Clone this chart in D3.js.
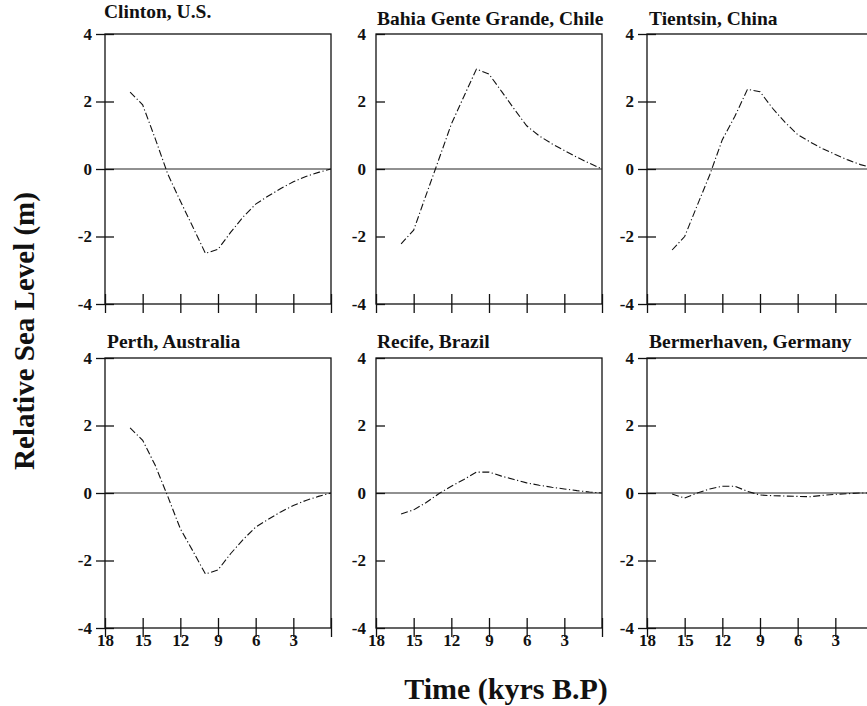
<!DOCTYPE html>
<html>
<head>
<meta charset="utf-8">
<script src="https://cdnjs.cloudflare.com/ajax/libs/d3/7.8.5/d3.min.js"></script>
<style>
body{margin:0;background:#fff;}
svg text{font-family:"Liberation Serif","Times New Roman",serif;font-weight:bold;fill:#111;}
</style>
</head>
<body>
<script>
// sample ages, kyrs before present
var kyrs = [16,15,14,13,12,11,10,9,8,7,6,5,4,3,2,1,0];

var siteNames = ["Clinton, U.S.", "Bahia Gente Grande, Chile", "Tientsin, China",
                 "Perth, Australia", "Recife, Brazil", "Bermerhaven, Germany"];

var clinton     = [2.28,1.9,0.9,-0.15,-0.95,-1.72,-2.5,-2.38,-1.88,-1.42,-1.04,-0.8,-0.58,-0.38,-0.22,-0.1,0];
var bahia       = [-2.22,-1.81,-0.76,0.28,1.33,2.15,2.96,2.81,2.3,1.78,1.28,0.98,0.75,0.55,0.35,0.17,0];
var tientsin    = [-2.4,-2.0,-1.08,-0.17,0.87,1.56,2.36,2.29,1.8,1.38,1.02,0.8,0.6,0.43,0.27,0.13,0.03];
var perth       = [1.93,1.56,0.82,-0.1,-1.06,-1.72,-2.4,-2.28,-1.8,-1.38,-1.01,-0.78,-0.56,-0.37,-0.22,-0.1,0];
var recife      = [-0.62,-0.5,-0.28,-0.02,0.2,0.4,0.62,0.62,0.5,0.4,0.3,0.23,0.17,0.12,0.07,0.03,0];
var bermerhaven = [-0.03,-0.15,0.0,0.12,0.2,0.2,0.05,-0.06,-0.08,-0.09,-0.1,-0.11,-0.07,-0.04,-0.02,0,0];

var seriesList = [clinton, bahia, tientsin, perth, recife, bermerhaven];

var xTicks = [18,15,12,9,6,3,0];
var xTickLabels = ["18","15","12","9","6","3",""];
var yTicks = [-4,-2,0,2,4];

// layout
var W = 867, H = 706;
var panelLeft = [105, 376, 647];
var panelTop = [34, 358];
var pw = 226, ph = 270;
var titleBase = [-16, -9, -9, -10, -10, -10];
var titleDx = [-1, 1, 2, 2, 1, 2];

var svg = d3.select("body").append("svg")
            .attr("width", W)
            .attr("height", H);

svg.append("rect").attr("width", W).attr("height", H).attr("fill", "#fff");

var x = d3.scaleLinear().domain([18,0]).range([0,pw]);
var y = d3.scaleLinear().domain([-4,4]).range([ph,0]);

var line = d3.line()
             .x(function(d){ return x(d[0]); })
             .y(function(d){ return y(d[1]); });

for (var i=0;i<6;i++){
  var col = i%3, row = Math.floor(i/3);
  var g = svg.append("g")
             .attr("transform","translate("+panelLeft[col]+","+panelTop[row]+")");

  // frame
  g.append("rect")
   .attr("width", pw).attr("height", ph)
   .attr("fill","none").attr("stroke","#111").attr("stroke-width",1.3);

  // zero line
  g.append("line")
   .attr("x1",0).attr("x2",pw)
   .attr("y1",y(0)).attr("y2",y(0))
   .attr("stroke","#222").attr("stroke-width",1);

  // y axis: labels + outer ticks (middle column has inner ticks only)
  var yOut = d3.axisLeft(y).tickValues(yTicks)
               .tickFormat(function(d){ return String(d); })
               .tickSizeOuter(0)
               .tickSizeInner(col==1 ? 0 : 9)
               .tickPadding(col==1 ? 10 : 4);
  var ya = g.append("g").call(yOut);
  var yIn = d3.axisRight(y).tickValues(yTicks).tickFormat("").tickSizeOuter(0).tickSizeInner(9);
  var yb = g.append("g").call(yIn);

  // x axis: ticks crossing the bottom edge
  var xDown = d3.axisBottom(x).tickValues(xTicks).tickSizeOuter(0).tickSizeInner(9)
                .tickFormat(function(d,k){ return row==1 ? xTickLabels[k] : ""; });
  var xa = g.append("g").attr("transform","translate(0,"+ph+")").call(xDown);
  var xUp = d3.axisTop(x).tickValues(xTicks).tickFormat("").tickSizeOuter(0).tickSizeInner(10);
  var xb = g.append("g").attr("transform","translate(0,"+ph+")").call(xUp);

  [ya,yb,xa,xb].forEach(function(a){
    a.select(".domain").remove();
    a.selectAll("line").attr("stroke","#111").attr("stroke-width",1.3);
    a.selectAll("text").attr("fill","#111")
      .style("font-size","17px")
      .style("font-family","'Liberation Serif','Times New Roman',serif")
      .style("font-weight","bold");
  });
  xa.selectAll("text").attr("y",18).attr("dy",null);

  // data curve
  var pts = kyrs.map(function(k,j){ return [k, seriesList[i][j]]; });
  g.append("path")
   .datum(pts)
   .attr("d", line)
   .attr("fill","none")
   .attr("stroke","#111")
   .attr("stroke-width",1.1)
   .attr("stroke-dasharray","7,2.5,1.2,2.5");

  // panel title
  g.append("text")
   .attr("x", titleDx[i])
   .attr("y", titleBase[i])
   .style("font-size","19.5px")
   .text(siteNames[i]);
}

svg.append("text")
   .attr("transform","translate(34,331) rotate(-90)")
   .attr("text-anchor","middle")
   .style("font-size","29px")
   .text("Relative Sea Level (m)");

svg.append("text")
   .attr("x",506).attr("y",699)
   .attr("text-anchor","middle")
   .style("font-size","30px")
   .text("Time (kyrs B.P)");
</script>
</body>
</html>
